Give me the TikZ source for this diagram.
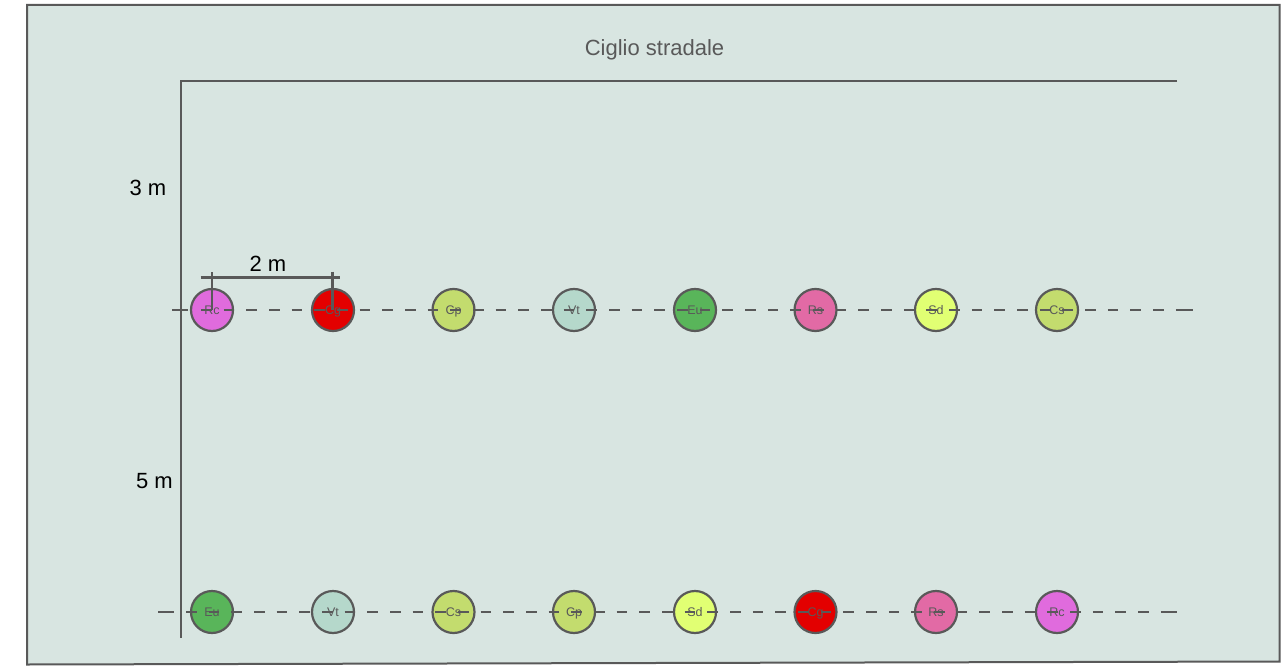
\documentclass[tikz,border=0pt]{standalone}
\usepackage{fontspec}
\setmainfont{Liberation Sans}
\definecolor{bgc}{HTML}{D8E5E1}
\definecolor{linec}{HTML}{595959}
\definecolor{cRc}{HTML}{E06BDD}
\definecolor{cCg}{HTML}{E30000}
\definecolor{cCp}{HTML}{C3DC6E}
\definecolor{cVt}{HTML}{B5D8CB}
\definecolor{cEu}{HTML}{59B55A}
\definecolor{cRs}{HTML}{E26AA5}
\definecolor{cSd}{HTML}{E1FF73}
\tikzset{
  frame/.style={draw=linec,fill=bgc,line width=2pt},
  guide/.style={draw=linec,line width=2.2pt},
  dashline/.style={draw=linec,line width=2.2pt,dash pattern=on 10.5pt off 12.17pt},
  plant/.style={circle,draw=linec,line width=2.2pt,minimum size=42pt,inner sep=0pt,text=linec,
    font=\fontsize{12.5}{14}\selectfont,text height=9pt,text depth=0pt},
  lab/.style={font=\fontsize{22}{26}\selectfont,text=black,inner sep=0pt},
  title/.style={font=\fontsize{22}{26}\selectfont,text=linec,inner sep=0pt}
}
\begin{document}
\begin{tikzpicture}[x=1pt,y=-1pt]
\useasboundingbox (0,0) rectangle (1285,666);
\draw[frame] (27,5) -- (1279.5,5) -- (1279.5,661.5) -- (27,664.5) -- cycle;
\node[title] (t) at (654.5,50) {Ciglio stradale};
\node[lab] (m3) at (148,187.5) {3 m};
\node[lab] (m5) at (154.5,481) {5 m};
\node[lab] (m2) at (268,264) {2 m};
\coordinate (tr) at (1177,81);
\coordinate (tl) at (181,81);
\coordinate (bl) at (181,638);
\draw[guide] (tr) -- (tl) -- (bl);
\foreach \n/\x/\c/\t in {a/212/cRc/Rc,b/333/cCg/Cg,c/453.5/cCp/Cp,d/574/cVt/Vt,e/695/cEu/Eu,f/815.5/cRs/Rs,g/936/cSd/Sd,h/1057/cCp/Cs}
  \node[plant,fill=\c] (\n) at (\x,310) {\t};
\foreach \n/\x/\c/\t in {p/212/cEu/Eu,q/333/cVt/Vt,r/453.5/cCp/Cs,s/574/cCp/Cp,u/695/cSd/Sd,v/815.5/cCg/Cg,w/936/cRs/Rs,z/1057/cRc/Rc}
  \node[plant,fill=\c] (\n) at (\x,612) {\t};
% upper row axis
\coordinate (a0) at (172,310); \coordinate (a1) at (188,310);
\coordinate (a2) at (201,310); \coordinate (a3) at (1176,310);
\coordinate (a4) at (1192.5,310);
\draw[guide] (a0) -- (a1);
\draw[dashline] (a2) -- (a3);
\draw[guide] (a3) -- (a4);
% lower row axis
\coordinate (b0) at (158,612); \coordinate (b1) at (174,612);
\coordinate (b2) at (186,612); \coordinate (b3) at (1161,612);
\coordinate (b4) at (1176.5,612);
\draw[guide] (b0) -- (b1);
\draw[dashline] (b2) -- (b3);
\draw[guide] (b3) -- (b4);
% 2 m dimension
\coordinate (d0) at (200.5,277.5); \coordinate (d1) at (340,277.5);
\coordinate (d2) at (212,272); \coordinate (d3) at (212,310);
\coordinate (d4) at (332.5,271.5); \coordinate (d5) at (332.5,310);
\draw[guide] (d0) -- (d1);
\draw[guide] (d2) -- (d3);
\draw[guide] (d4) -- (d5);
\end{tikzpicture}
\end{document}
